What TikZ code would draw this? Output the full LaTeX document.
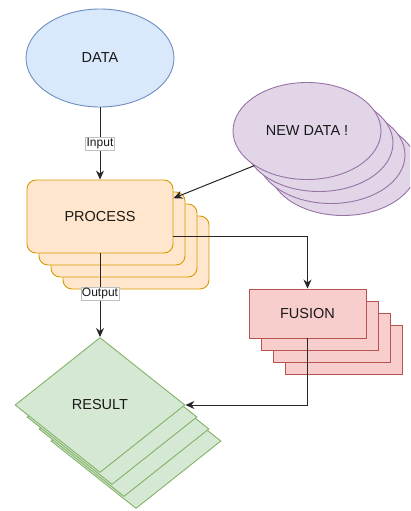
\documentclass[tikz,border=0pt]{standalone}
\usepackage{fontspec}
\setmainfont{Liberation Sans}
\usetikzlibrary{shapes.geometric,arrows.meta,calc}
\definecolor{bfill}{HTML}{DAE8FC}\definecolor{bline}{HTML}{6C8EBF}
\definecolor{ofill}{HTML}{FFE6CC}\definecolor{oline}{HTML}{D79B00}
\definecolor{pfill}{HTML}{E1D5E7}\definecolor{pline}{HTML}{9673A6}
\definecolor{rfill}{HTML}{F8CECC}\definecolor{rline}{HTML}{B85450}
\definecolor{gfill}{HTML}{D5E8D4}\definecolor{gline}{HTML}{82B366}
\tikzset{
  txt/.style={font=\fontsize{14.5}{17}\selectfont, text=black!90},
  blueell/.style={ellipse, draw=bline, fill=bfill, line width=0.9pt, minimum width=148pt, minimum height=98pt, inner sep=0pt, txt},
  purpell/.style={ellipse, draw=pline, fill=pfill, line width=0.9pt, minimum width=148pt, minimum height=97pt, inner sep=0pt, txt},
  procbox/.style={rectangle, rounded corners=9pt, draw=oline, fill=ofill, line width=0.9pt, minimum width=146pt, minimum height=73pt, inner sep=0pt, txt},
  fusbox/.style={rectangle, draw=rline, fill=rfill, line width=0.9pt, minimum width=117pt, minimum height=49pt, inner sep=0pt, txt},
  resdia/.style={diamond, draw=gline, fill=gfill, line width=0.9pt, minimum width=170pt, minimum height=135pt, inner sep=0pt, txt},
  conn/.style={draw=black!85, line width=1pt, -{Stealth[length=9pt,width=8pt]}},
  lbl/.style={fill=white, draw=black!25, line width=0.4pt, inner sep=1pt, font=\fontsize{12}{14}\selectfont, text=black!90}
}
\begin{document}
\begin{tikzpicture}[x=1pt,y=-1pt]
\useasboundingbox (0,0) rectangle (410,511);
\clip (0,0) rectangle (410,511);
% DATA
\node[blueell] (data) at (100,58) {DATA};
% NEW DATA stack
\node[purpell] (nd3) at (343,167) {};
\node[purpell] (nd2) at (331,155) {};
\node[purpell] (nd1) at (319,143) {};
\node[purpell] (nd) at (307,131) {NEW DATA !};
% PROCESS stack
\node[procbox] (p3) at (136,252.5) {};
\node[procbox] (p2) at (124,240.5) {};
\node[procbox] (p1) at (112,228.5) {};
\node[procbox] (p0) at (100,216.5) {PROCESS};
% FUSION stack
\node[fusbox] (f3) at (343.5,349.5) {};
\node[fusbox] (f2) at (331.5,337.5) {};
\node[fusbox] (f1) at (319.5,325.5) {};
\node[fusbox] (f0) at (307.5,313.5) {FUSION};
% RESULT stack
\node[resdia] (r3) at (136,441) {};
\node[resdia] (r2) at (124,429) {};
\node[resdia] (r1) at (112,417) {};
\node[resdia] (r0) at (100,405) {RESULT};
% connectors
\draw[conn] (data.south) -- node[lbl] {Input} (p0.north);
\draw[conn] (nd.south west) -- (p0.14);
\draw[conn] (p0.-15) -| (f0.north);
\draw[conn] (p0.south) -- node[lbl, pos=0.48] {Output} (r0.north);
\draw[conn] (f0.south) |- (r0.east);
\end{tikzpicture}
\end{document}
